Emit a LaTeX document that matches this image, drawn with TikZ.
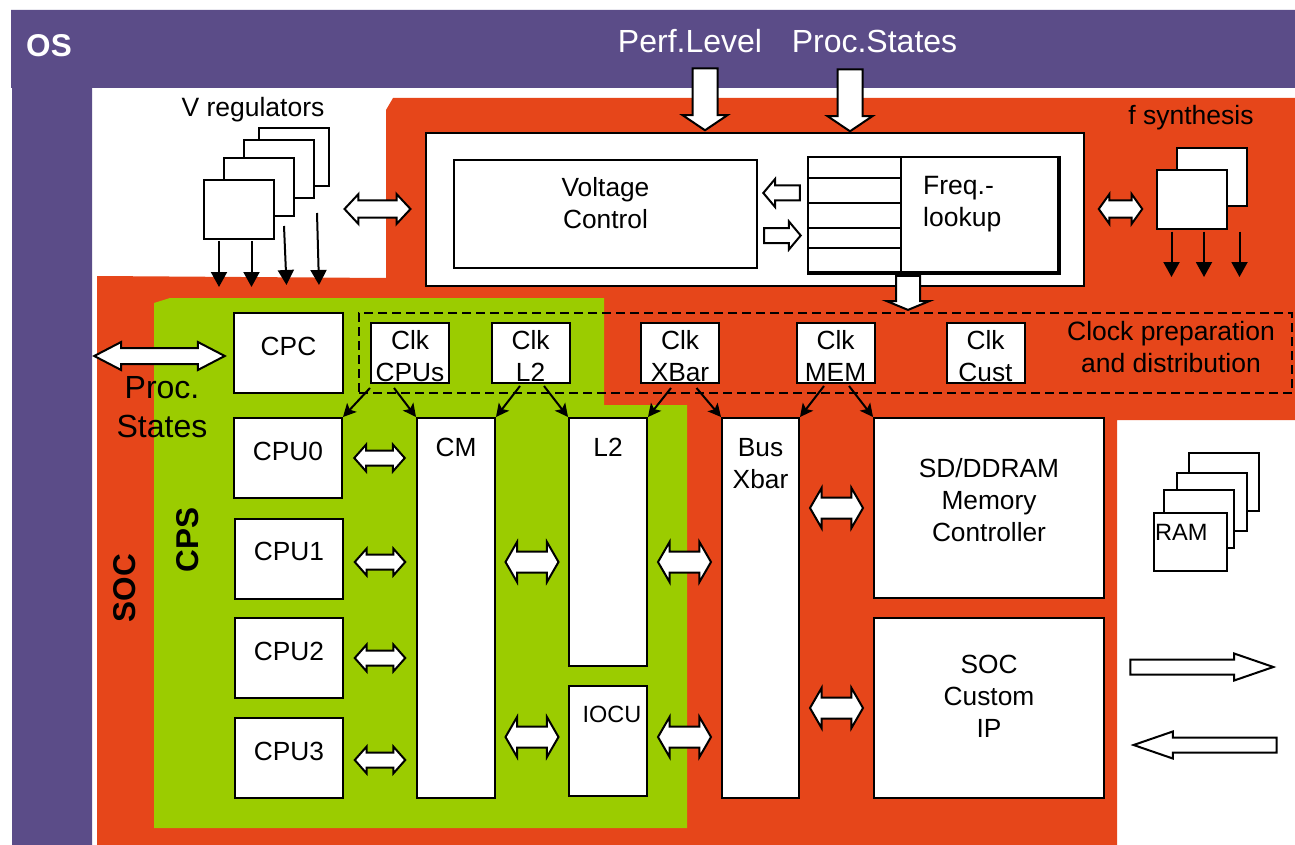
\documentclass[tikz,border=0pt]{standalone}
\usepackage{fontspec}
\setmainfont{Liberation Sans}
\usepackage{xcolor}
\usetikzlibrary{shapes.arrows,arrows.meta,calc}
\definecolor{osc}{RGB}{91,76,136}
\definecolor{socc}{RGB}{230,70,26}
\definecolor{cpsc}{RGB}{155,204,0}
\begin{document}
\begin{tikzpicture}[x=1pt,y=-1pt]
  \tikzset{ b/.style={draw,fill=white,line width=2pt,inner sep=0pt,align=center,font=\fontsize{26.3}{32}\selectfont},
    cpu/.style={b,minimum width=108pt,minimum height=80pt,text depth=14pt},
    clk/.style={b,minimum width=78pt,minimum height=60pt,text height=57.4pt,text depth=0pt},
    stk/.style={b,minimum width=70pt,minimum height=58pt},
    t/.style={anchor=base,inner sep=0pt,align=center,font=\fontsize{26.5}{32}\selectfont},
    tl/.style={t,font=\fontsize{32}{39}\selectfont},
    tb/.style={inner sep=0pt,font=\fontsize{31.5}{36}\selectfont\bfseries},
    a/.style={line width=2pt,-{Triangle[length=15pt,width=16pt]}},
    as/.style={line width=2pt,-{Stealth[length=13pt,width=13pt,inset=3pt]}},
    ba/.style={draw,fill=white,line width=2pt,inner xsep=0pt},
    d1/.style={ba,double arrow,inner ysep=6.5pt,minimum height=50.5pt,double arrow head extend=6pt,double arrow tip angle=97},
    d2/.style={ba,double arrow,inner ysep=9.5pt,minimum height=53pt,double arrow head extend=9.5pt,double arrow tip angle=120},
    d3/.style={ba,double arrow,inner ysep=7.5pt,minimum height=66pt,double arrow head extend=6.5pt,double arrow tip angle=94},
    s1/.style={ba,single arrow,anchor=tip,inner ysep=6.5pt,minimum height=36.5pt,single arrow head extend=6.5pt,single arrow tip angle=100},
    s2/.style={ba,single arrow,anchor=tip,inner ysep=6.5pt,minimum height=143pt,single arrow head extend=6pt,single arrow tip angle=38},
    s3/.style={ba,single arrow,anchor=tip,inner xsep=11.5pt,inner ysep=0pt,minimum height=62pt,single arrow head extend=10pt,single arrow tip angle=112,shape border rotate=270},
  }
  \useasboundingbox (0,0) rectangle (1295,845);
  \fill[osc] (11,10) -- (1295,10) -- (1295,88) -- (92,88) -- (92,845) -- (12,845) -- (12,88) -- (11,88) -- cycle;
  \fill[socc] (97,276) -- (386,278) -- (386,110) -- (393,98) -- (1295,98) -- (1295,420) -- (1117,420) -- (1117,845) -- (97,845) -- cycle;
  \fill[cpsc] (154,303) -- (170,298) -- (604,298) -- (604,405) -- (687,405) -- (687,828) -- (154,828) -- cycle;

  \node[tb,white,anchor=base] (OS) at (49,57) {OS};
  \node[tb,rotate=90] (SOC) at (124.5,588) {SOC};
  \node[tb,rotate=90] (CPS) at (187.5,540) {CPS};
  \node[tl,white] (PL) at (690,53) {Perf.Level};
  \node[tl,white] (PS) at (874.5,53) {Proc.States};
  \node[t] (VR) at (253,116.5) {V regulators};
  \node[t] (FS) at (1191,125) {f synthesis};

  \node[stk] (R4) at (294,157) {};
  \node[stk] (R3) at (279,169) {};
  \node[stk] (R2) at (259,187) {};
  \node[stk,minimum height=59pt] (R1) at (239,209.5) {};

  \node[stk] (F2) at (1212,177) {};
  \node[stk] (F1) at (1192,199.5) {};

  \node[b,minimum width=658pt,minimum height=153pt] (CTRL) at (755,209.5) {};
  \node[b,minimum width=303pt,minimum height=108pt,text depth=22pt] (VC) at (605.5,214) {Voltage\\Control};
  \node[b,minimum width=250pt,minimum height=115pt] (FQ) at (933,214.5) {};
  \draw[line width=4pt] (FQ.north east) -- (FQ.south east) -- (FQ.south west);
  \draw[line width=2pt] (901,157) -- (901,272);
  \draw[line width=2pt] (808,178) -- (901,178);
  \draw[line width=2pt] (808,203) -- (901,203);
  \draw[line width=2pt] (808,228) -- (901,228);
  \draw[line width=2pt] (808,248) -- (901,248);
  \node[t,anchor=base west,align=left] (FL) at (923,226.7) {Freq.-\\lookup};

  \coordinate (P1) at (705,131.5);
  \coordinate (P2) at (850,132.5);
  \node[s3] (A1) at (P1) {};
  \node[s3] (A2) at (P2) {};
  \node[s1,shape border rotate=180] (A3) at (762,193) {};
  \node[s1] (A4) at (802,235.5) {};
  \node[s3,inner xsep=11pt,minimum height=34pt,single arrow head extend=9.5pt,single arrow tip angle=135] (A5) at (908,311) {};

  \path (R4.east |- 0,209) -- (CTRL.west |- 0,209) node[midway,d3] (D1) {};
  \path (CTRL.east |- 0,209) -- (F1.west |- 0,209) node[midway,d3,minimum height=43.5pt,double arrow tip angle=109] (D2) {};

  \draw[a] ([xshift=-20pt,yshift=-1pt]R1.south) -- (219,287);
  \draw[a] ([xshift=12.5pt,yshift=-1pt]R1.south) -- (251.5,287);
  \draw[a] ([xshift=25pt,yshift=-9pt]R2.south) -- (286.5,285);
  \draw[a] ([xshift=23pt,yshift=-26pt]R4.south) -- (319,285);
  \draw[a] ([xshift=-20.5pt,yshift=-2pt]F1.south) -- (1171.5,277);
  \draw[a] ([xshift=12pt,yshift=-2pt]F1.south) -- (1204,277);
  \draw[a] ([xshift=47.5pt,yshift=-2pt]F1.south) -- (1239.5,277);

  \node[draw,dashed,line width=2pt,dash pattern=on 9pt off 5pt,minimum width=933pt,minimum height=80pt,inner sep=0pt] (CP) at (825.5,353) {};
  \node[t] (CPT) at (1171,372.7) {Clock preparation\\and distribution};

  \node[cpu,minimum width=109pt] (CPC) at (288.5,353) {CPC};
  \node[clk] (C1) at (410,353) {Clk\\CPUs};
  \node[clk] (C2) at (530.5,353) {Clk\\L2};
  \node[clk] (C3) at (680,353) {Clk\\XBar};
  \node[clk] (C4) at (835.5,353) {Clk\\MEM};
  \node[clk] (C5) at (985.5,353) {Clk\\Cust};

  \node[cpu] (CPU0) at (288,458) {CPU0};
  \node[cpu] (CPU1) at (289,558.5) {CPU1};
  \node[cpu] (CPU2) at (289,658) {CPU2};
  \node[cpu] (CPU3) at (289,758) {CPU3};
  \node[b,minimum width=78pt,minimum height=380pt,text depth=322pt] (CM) at (456,608) {CM};
  \node[b,minimum width=78pt,minimum height=248pt,text depth=190pt] (L2) at (608,542) {L2};
  \node[b,minimum width=78pt,minimum height=110pt,text depth=53pt,font=\fontsize{23.5}{32}\selectfont] (IOCU) at (608,741) {\hspace*{8pt}IOCU};
  \node[b,minimum width=77pt,minimum height=380pt,text depth=290pt] (BUS) at (760.5,608) {Bus\\Xbar};
  \node[b,minimum width=230pt,minimum height=180pt,text depth=16.6pt] (MEM) at (989,508) {SD/DDRAM\\Memory\\Controller};
  \node[b,minimum width=230pt,minimum height=180pt,text depth=24pt] (IP) at (989,708) {SOC\\Custom\\IP};

  \node[stk] (M4) at (1224,481.5) {};
  \node[stk] (M3) at (1211.5,502) {};
  \node[stk] (M2) at (1199,519) {};
  \node[b,minimum width=73pt,minimum height=58pt,text width=71pt,align=left,text depth=19.6pt,font=\fontsize{23.6}{32}\selectfont] (M1) at (1190.5,542) {RAM};

  \draw[as] ([xshift=-40pt,yshift=-4pt]C1.south) -- (CPU0.north east);
  \draw[as] ([xshift=-16pt,yshift=-4pt]C1.south) -- (CM.north west);
  \draw[as] ([xshift=-10.5pt,yshift=-2pt]C2.south) -- (CM.north east);
  \draw[as] ([xshift=13.5pt,yshift=-2pt]C2.south) -- (L2.north west);
  \draw[as] ([xshift=-9pt,yshift=-4pt]C3.south) -- (L2.north east);
  \draw[as] ([xshift=16.5pt,yshift=-4pt]C3.south) -- (BUS.north west);
  \draw[as] ([xshift=-11.5pt,yshift=-2pt]C4.south) -- (BUS.north east);
  \draw[as] ([xshift=13.5pt,yshift=-2pt]C4.south) -- (MEM.north west);

  \node[tl] (PT) at (162,437) {Proc.\\States};
  \node[ba,double arrow,inner ysep=7pt,minimum height=130.5pt,double arrow head extend=6pt,double arrow tip angle=55] (D3) at (159.5,356) {};

  \path (CPU0.east) -- (CM.west |- CPU0.east) node[midway,d1] (E0) {};
  \path ([yshift=-3.5pt]CPU1.east) -- ([yshift=-3.5pt]CM.west |- CPU1.east) node[midway,d1] (E1) {};
  \path (CPU2.east) -- (CM.west |- CPU2.east) node[midway,d1] (E2) {};
  \path ([yshift=-2pt]CPU3.east) -- ([yshift=-2pt]CM.west |- CPU3.east) node[midway,d1] (E3) {};

  \path (CM.east |- 0,562) -- (L2.west |- 0,562) node[midway,d2] (G1) {};
  \path (CM.east |- IOCU.center) -- (IOCU.west) node[midway,yshift=4pt,d2] (G2) {};
  \path (L2.east |- 0,562) -- (BUS.west |- 0,562) node[midway,d2] (G3) {};
  \path (IOCU.east) -- (BUS.west |- IOCU.center) node[midway,yshift=4pt,d2] (G4) {};
  \path (BUS.east |- MEM.center) -- (MEM.west) node[midway,d2] (G5) {};
  \path (BUS.east |- IP.center) -- (IP.west) node[midway,d2] (G6) {};

  \node[s2] (H1) at (1276.4,667) {};
  \node[s2,shape border rotate=180] (H2) at (1130.5,745) {};
\end{tikzpicture}
\end{document}
